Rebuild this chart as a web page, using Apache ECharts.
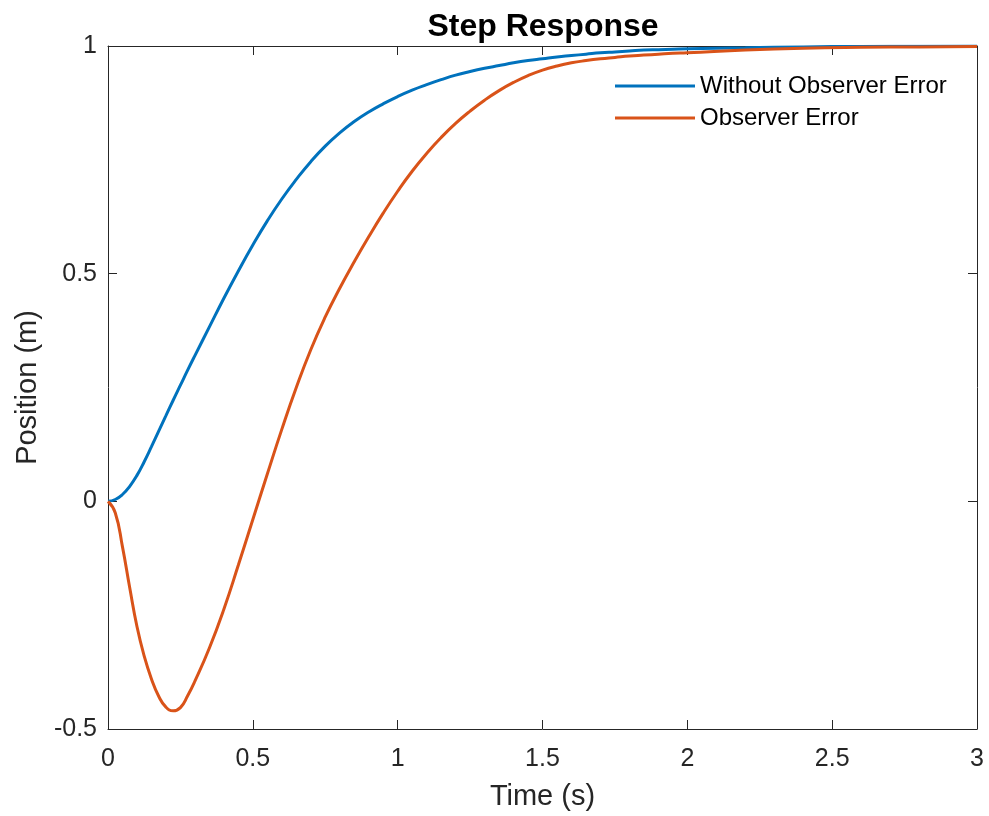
<!DOCTYPE html>
<html>
<head>
<meta charset="UTF-8">
<title>Step Response</title>
<script type="text/javascript" src="https://cdn.jsdelivr.net/npm/echarts@6/dist/echarts.min.js"></script>
<style>
  html, body { margin: 0; padding: 0; background: #fff; }
  #main { width: 989px; height: 816px; }
</style>
</head>
<body>
<div id="main"></div>
<script type="text/javascript">
// time samples (s)
var timeS = [0, 0.025, 0.05, 0.075, 0.1, 0.125, 0.15, 0.175, 0.2, 0.225, 0.25, 0.275, 0.3, 0.35, 0.4, 0.45, 0.5, 0.55, 0.6, 0.65, 0.7, 0.75,
             0.8, 0.85, 0.9, 0.95, 1.0, 1.05, 1.1, 1.15, 1.2, 1.25, 1.3, 1.35, 1.4, 1.45, 1.5, 1.55, 1.6, 1.65, 1.7, 1.75, 1.8, 1.85, 1.9, 1.95, 2.0,
             2.2, 2.4, 2.6, 2.8, 3.0];
// position without observer error
var noObsErr = [0, 0.004, 0.015, 0.033, 0.057, 0.087, 0.12, 0.154, 0.188, 0.222, 0.255, 0.288, 0.32, 0.383, 0.446, 0.506, 0.563, 0.616, 0.664, 0.707, 0.746, 0.78,
                0.809, 0.834, 0.855, 0.873, 0.889, 0.903, 0.915, 0.926, 0.936, 0.944, 0.951, 0.957, 0.963, 0.968, 0.972, 0.976, 0.979, 0.982, 0.985, 0.987, 0.989, 0.991, 0.992, 0.993, 0.994,
                0.996, 0.998, 0.999, 0.9995, 1.0];
// position with observer error
var obsErr = [0, -0.025, -0.10, -0.19, -0.275, -0.34, -0.39, -0.428, -0.452, -0.46, -0.453, -0.427, -0.395, -0.322, -0.237, -0.14, -0.04, 0.06, 0.158, 0.25, 0.333, 0.405,
              0.468, 0.526, 0.581, 0.633, 0.681, 0.725, 0.764, 0.799, 0.83, 0.857, 0.881, 0.902, 0.92, 0.935, 0.947, 0.956, 0.963, 0.968, 0.972, 0.975, 0.978, 0.98, 0.982, 0.984, 0.985,
              0.991, 0.995, 0.997, 0.998, 0.999];
var xTicks = [0, 3, 0.5];
var yTicks = [-0.5, 1, 0.5];

var myChart = echarts.init(document.getElementById('main'));

function pairs(vals) {
    return timeS.map(function (t, i) { return [t, vals[i]]; });
}

var axisCol = '#262626';
var font = 'Arial, "Liberation Sans", Helvetica, sans-serif';

function boxAxis(pos, range, showLabel, name) {
    return {
        type: 'value',
        position: pos,
        min: range[0], max: range[1], interval: range[2],
        name: name || '',
        nameLocation: 'middle',
        nameGap: (pos === 'left') ? 66 : 53,
        nameTextStyle: { color: axisCol, fontSize: 29, fontFamily: font },
        axisLine: { show: true, onZero: false, lineStyle: { color: axisCol, width: 1 } },
        axisTick: { show: true, inside: true, length: 9, lineStyle: { color: axisCol } },
        axisLabel: { show: showLabel, color: axisCol, fontSize: 25, fontFamily: font, margin: (pos === 'left') ? 11 : 18 },
        splitLine: { show: false }
    };
}

var option = {
    animation: false,
    title: {
        text: 'Step Response',
        left: 538, top: 6, textAlign: 'center',
        textStyle: { color: '#000', fontSize: 32, fontWeight: 'bold', fontFamily: font }
    },
    legend: {
        orient: 'vertical',
        left: 615, top: 74, padding: 0,
        itemWidth: 80, itemHeight: 3, itemGap: 8,
        icon: 'rect',
        textStyle: { color: '#000', fontSize: 24, fontFamily: font },
        data: ['Without Observer Error', 'Observer Error']
    },
    grid: { left: 108, right: 12, top: 46, bottom: 86 },
    xAxis: [boxAxis('bottom', xTicks, true, 'Time (s)'), boxAxis('top', xTicks, false)],
    yAxis: [boxAxis('left', yTicks, true, 'Position (m)'), boxAxis('right', yTicks, false)],
    series: [
        {
            name: 'Without Observer Error', type: 'line', smooth: 0.5, showSymbol: false,
            data: pairs(noObsErr), color: '#0072BD', lineStyle: { width: 3 }
        },
        {
            name: 'Observer Error', type: 'line', smooth: 0.5, showSymbol: false,
            data: pairs(obsErr), color: '#D95319', lineStyle: { width: 3 }
        }
    ]
};
myChart.setOption(option);
</script>
</body>
</html>
